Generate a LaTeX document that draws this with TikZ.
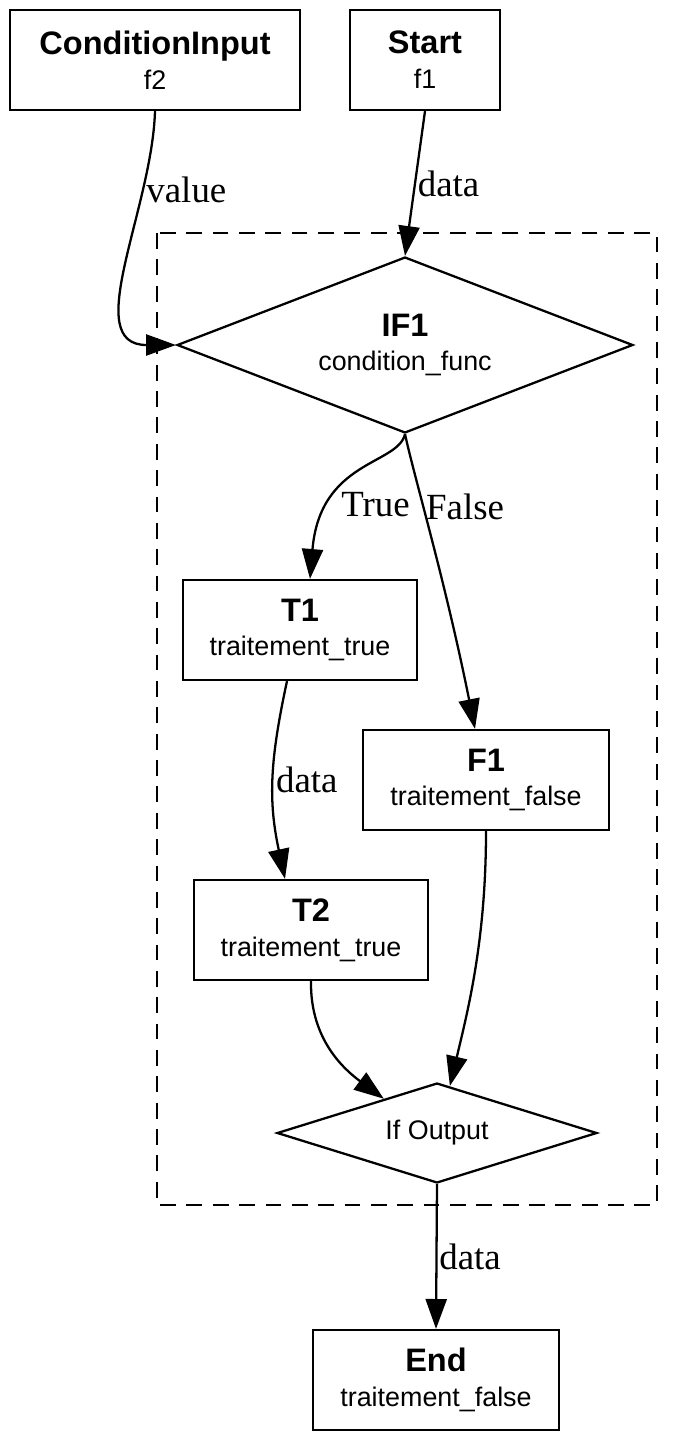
\documentclass[tikz,border=0pt]{standalone}
\usepackage{fontspec}
\setmainfont{Liberation Sans}
\newfontfamily\seriffont{Liberation Serif}
\usetikzlibrary{shapes,arrows.meta,positioning,calc}

\tikzset{
  box/.style={draw, line width=1.3pt, rectangle, minimum height=2cm, align=center, inner sep=0pt, font=\fontsize{15.3}{19.8}\selectfont},
  cond/.style={draw, line width=1.3pt, diamond, inner sep=0pt, align=center, font=\fontsize{15.3}{19.8}\selectfont},
  edge/.style={line width=1.3pt, -{Triangle[length=17pt,width=12pt]}},
  lbl/.style={font=\seriffont\fontsize{21}{24}\selectfont, inner sep=1pt},
  cluster/.style={dash pattern=on 9pt off 6pt, line width=1.3pt}
}
\newcommand{\ttl}[1]{{\bfseries\fontsize{18.5}{19.8}\selectfont #1}}

\begin{document}
\begin{tikzpicture}[x=0.02cm, y=-0.02cm]
    \useasboundingbox (0,0) rectangle (690,1440);

    % Inputs
    \node[box, minimum width=5.8cm] (cin) at (155,60) {\ttl{ConditionInput}\\f2};
    \node[box, minimum width=3cm] (start) at (425,60) {\ttl{Start}\\f1};

    % If block
    \draw[cluster] (157,233) rectangle (657,1205);
    \node[cond, aspect=2.6, minimum width=9.12cm, minimum height=3.52cm] (if1) at (405,345) {\ttl{IF1}\\condition\_func};
    \node[box, minimum width=4.68cm] (t1) at (300,630) {\ttl{T1}\\traitement\_true};
    \node[box, minimum width=4.92cm] (f1) at (486,780) {\ttl{F1}\\traitement\_false};
    \node[box, minimum width=4.68cm] (t2) at (311,930) {\ttl{T2}\\traitement\_true};
    \node[cond, aspect=3.2, minimum width=6.4cm, minimum height=2cm] (ifout) at (437,1133) {If Output};

    % Output
    \node[box, minimum width=4.92cm] (end) at (436,1380) {\ttl{End}\\traitement\_false};

    % Edges
    \draw[edge] (cin.south) .. controls (152,210) and (80,345) .. (if1.west) node[lbl, pos=0.25, anchor=west] {value};
    \draw[edge] (start.south) -- (if1.north) node[lbl, midway, anchor=west] {data};
    \draw[edge] (if1.south) .. controls (398,465) and (320,460) .. ($(t1.north)+(10,0)$) node[lbl, pos=0.72, anchor=west, xshift=4pt] {True};
    \draw[edge] (if1.south) .. controls (415,480) and (445,580) .. ($(f1.north)+(-11,0)$) node[lbl, pos=0.37, anchor=west] {False};
    \draw[edge] ($(t1.south)+(-13,0)$) .. controls (270,760) and (268,800) .. ($(t2.north)+(-26,0)$) node[lbl, pos=0.5, anchor=west] {data};
    \draw[edge] (t2.south) .. controls (310,1040) and (345,1070) .. ($(ifout.north)!0.33!(ifout.west)$);
    \draw[edge] (f1.south) .. controls (486,940) and (468,1010) .. ($(ifout.north)!0.08!(ifout.east)$);
    \draw[edge] (ifout.south) -- (end.north) node[lbl, midway, anchor=west] {data};
\end{tikzpicture}
\end{document}
